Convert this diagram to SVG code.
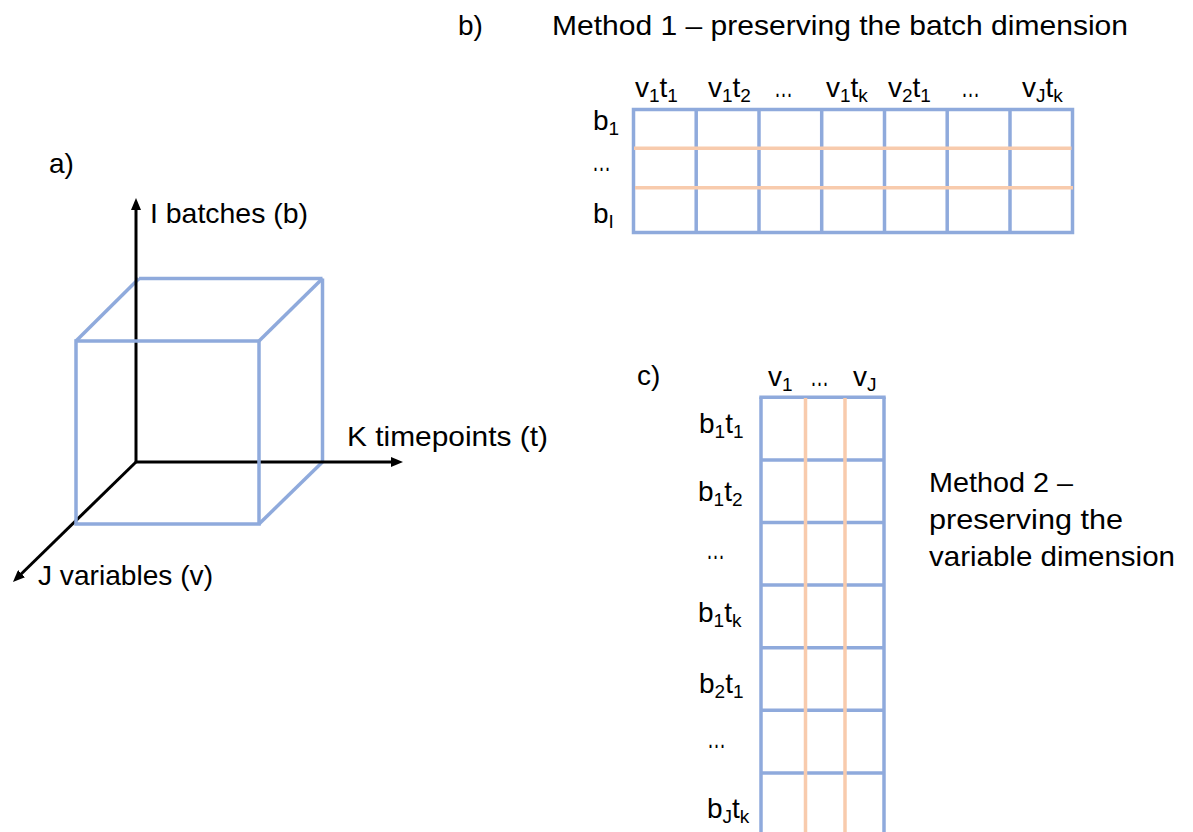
<svg xmlns="http://www.w3.org/2000/svg" width="1193" height="832" viewBox="0 0 1193 832">
  <style>
    text { font-family: "Liberation Sans", Arial, sans-serif; font-size: 28px; fill: #000; }
    .sub { font-size: 19px; }
    .ell { font-size: 30px; }
    .blue { stroke: #8FAADC; stroke-width: 3.5; fill: none; }
    .orange { stroke: #F8CBAD; stroke-width: 3.5; fill: none; }
    .axis { stroke: #000; stroke-width: 3; fill: none; marker-end: url(#arrow); }
  </style>
  <defs>
    <marker id="arrow" viewBox="0 0 12 10" refX="3" refY="5" markerWidth="12" markerHeight="10" markerUnits="userSpaceOnUse" orient="auto">
      <path d="M0,0 L12,5 L0,10 z" fill="#000"/>
    </marker>
  </defs>
  <rect width="1193" height="832" fill="#fff"/>

  <!-- Panel a: cube -->
  <g id="panel-a">
    <text x="49" y="173">a)</text>
    <g id="cube">
      <line class="blue" x1="139" y1="278.5" x2="322.5" y2="278.5"/>
      <line class="blue" x1="322.5" y1="278.5" x2="322.5" y2="462"/>
      <line class="blue" x1="76" y1="341" x2="139" y2="278.5"/>
      <line class="blue" x1="259" y1="341" x2="322.5" y2="278.5" stroke-width="4.5"/>
      <line class="blue" x1="259" y1="524" x2="322.5" y2="462"/>
    </g>
    <g id="axes">
      <line class="axis" x1="136" y1="462" x2="136" y2="207"/>
      <line class="axis" x1="136" y1="462" x2="394" y2="462"/>
      <line class="axis" x1="136" y1="462" x2="19.4" y2="575.7"/>
    </g>
    <rect class="blue" x="76" y="341" width="183" height="183"/>
    <text x="150" y="223" textLength="158" lengthAdjust="spacingAndGlyphs">I batches (b)</text>
    <text x="347" y="446" textLength="201" lengthAdjust="spacingAndGlyphs">K timepoints (t)</text>
    <text x="38" y="585" textLength="175" lengthAdjust="spacingAndGlyphs">J variables (v)</text>
  </g>

  <!-- Panel b -->
  <g id="panel-b">
    <text x="458" y="35">b)</text>
    <text x="552" y="35" textLength="576" lengthAdjust="spacingAndGlyphs">Method 1 – preserving the batch dimension</text>
    <g id="matrix-b">
      <rect class="blue" x="633.5" y="109.5" width="439" height="123"/>
      <line class="blue" x1="696.2" y1="109.5" x2="696.2" y2="232.5"/>
      <line class="blue" x1="759" y1="109.5" x2="759" y2="232.5"/>
      <line class="blue" x1="821.7" y1="109.5" x2="821.7" y2="232.5"/>
      <line class="blue" x1="884.5" y1="109.5" x2="884.5" y2="232.5"/>
      <line class="blue" x1="947.2" y1="109.5" x2="947.2" y2="232.5"/>
      <line class="blue" x1="1010" y1="109.5" x2="1010" y2="232.5"/>
      <line class="orange" x1="634" y1="148.3" x2="1071.5" y2="148.3"/>
      <line class="orange" x1="635" y1="187.7" x2="1073" y2="187.7"/>
    </g>
    <g id="col-labels-b">
      <text x="635" y="97">v<tspan class="sub" dy="5">1</tspan><tspan dy="-5">t</tspan><tspan class="sub" dy="5">1</tspan></text>
      <text x="708" y="97">v<tspan class="sub" dy="5">1</tspan><tspan dy="-5">t</tspan><tspan class="sub" dy="5">2</tspan></text>
      <text class="ell" x="774" y="97" textLength="19" lengthAdjust="spacingAndGlyphs">…</text>
      <text x="826" y="97">v<tspan class="sub" dy="5">1</tspan><tspan dy="-5">t</tspan><tspan class="sub" dy="5">k</tspan></text>
      <text x="888" y="97">v<tspan class="sub" dy="5">2</tspan><tspan dy="-5">t</tspan><tspan class="sub" dy="5">1</tspan></text>
      <text class="ell" x="961" y="97" textLength="19" lengthAdjust="spacingAndGlyphs">…</text>
      <text x="1022" y="97">v<tspan class="sub" dy="5">J</tspan><tspan dy="-5">t</tspan><tspan class="sub" dy="5">k</tspan></text>
    </g>
    <g id="row-labels-b">
      <text x="593" y="130">b<tspan class="sub" dy="5">1</tspan></text>
      <text class="ell" x="592" y="171" textLength="19" lengthAdjust="spacingAndGlyphs">…</text>
      <text x="593" y="223">b<tspan class="sub" dy="5">I</tspan></text>
    </g>
  </g>

  <!-- Panel c -->
  <g id="panel-c">
    <text x="637" y="385">c)</text>
    <g id="matrix-c">
      <line class="blue" x1="761" y1="397.3" x2="761" y2="840"/>
      <line class="blue" x1="884" y1="397.3" x2="884" y2="840"/>
      <line class="blue" x1="759.3" y1="397.3" x2="885.7" y2="397.3"/>
      <line class="blue" x1="761" y1="459.9" x2="884" y2="459.9"/>
      <line class="blue" x1="761" y1="522.5" x2="884" y2="522.5"/>
      <line class="blue" x1="761" y1="585.1" x2="884" y2="585.1"/>
      <line class="blue" x1="761" y1="647.7" x2="884" y2="647.7"/>
      <line class="blue" x1="761" y1="710.3" x2="884" y2="710.3"/>
      <line class="blue" x1="761" y1="772.9" x2="884" y2="772.9"/>
      <line class="orange" x1="805.5" y1="398" x2="805.5" y2="840"/>
      <line class="orange" x1="845" y1="398" x2="845" y2="840"/>
    </g>
    <g id="col-labels-c">
      <text x="768" y="386">v<tspan class="sub" dy="5">1</tspan></text>
      <text class="ell" x="810" y="386" textLength="19" lengthAdjust="spacingAndGlyphs">…</text>
      <text x="853" y="386">v<tspan class="sub" dy="5">J</tspan></text>
    </g>
    <g id="row-labels-c">
      <text x="699" y="433">b<tspan class="sub" dy="5">1</tspan><tspan dy="-5">t</tspan><tspan class="sub" dy="5">1</tspan></text>
      <text x="698" y="501">b<tspan class="sub" dy="5">1</tspan><tspan dy="-5">t</tspan><tspan class="sub" dy="5">2</tspan></text>
      <text class="ell" x="706" y="559" textLength="19" lengthAdjust="spacingAndGlyphs">…</text>
      <text x="698" y="622">b<tspan class="sub" dy="5">1</tspan><tspan dy="-5">t</tspan><tspan class="sub" dy="5">k</tspan></text>
      <text x="699" y="693">b<tspan class="sub" dy="5">2</tspan><tspan dy="-5">t</tspan><tspan class="sub" dy="5">1</tspan></text>
      <text class="ell" x="707" y="748" textLength="19" lengthAdjust="spacingAndGlyphs">…</text>
      <text x="707" y="818">b<tspan class="sub" dy="5">J</tspan><tspan dy="-5">t</tspan><tspan class="sub" dy="5">k</tspan></text>
    </g>
    <g id="method2-label">
      <text x="929" y="492" textLength="144" lengthAdjust="spacingAndGlyphs">Method 2 –</text>
      <text x="929" y="529" textLength="194" lengthAdjust="spacingAndGlyphs">preserving the</text>
      <text x="929" y="566" textLength="246" lengthAdjust="spacingAndGlyphs">variable dimension</text>
    </g>
  </g>
</svg>
